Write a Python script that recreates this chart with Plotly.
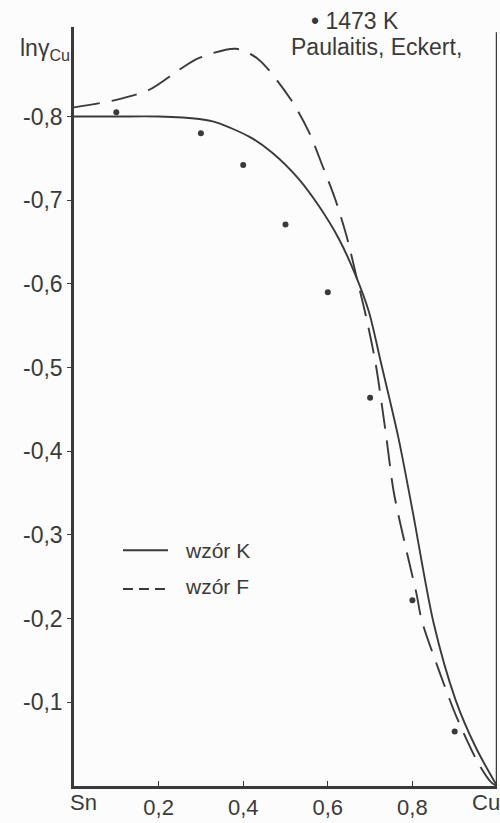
import plotly.graph_objects as go

# ---- data ----
k_x = [0.0, 0.1, 0.2, 0.296, 0.336, 0.414, 0.468, 0.532, 0.579, 0.626, 0.666, 0.697, 0.727, 0.767, 0.80, 0.85, 0.902, 0.95, 1.0]
k_y = [-0.800, -0.800, -0.800, -0.797, -0.793, -0.776, -0.757, -0.725, -0.693, -0.654, -0.610, -0.567, -0.503, -0.416, -0.330, -0.195, -0.103, -0.046, 0.0]

f_x = [0.0, 0.1, 0.178, 0.249, 0.296, 0.383, 0.437, 0.513, 0.555, 0.586, 0.617, 0.645, 0.669, 0.690, 0.713, 0.737,
       0.756, 0.787, 0.810, 0.822, 0.862, 0.904, 0.956, 0.987, 1.0]
f_y = [-0.811, -0.820, -0.832, -0.856, -0.870, -0.881, -0.868, -0.820, -0.782, -0.743, -0.702, -0.656, -0.606, -0.562,
       -0.505, -0.422, -0.351, -0.279, -0.229, -0.198, -0.139, -0.083, -0.027, -0.004, 0.0]

pts_x = [0.1, 0.3, 0.4, 0.5, 0.6, 0.7, 0.8, 0.9]
pts_y = [-0.805, -0.780, -0.742, -0.671, -0.590, -0.464, -0.222, -0.065]

y_ticks = [-0.1, -0.2, -0.3, -0.4, -0.5, -0.6, -0.7, -0.8]
y_ticktext = ["-0,1", "-0,2", "-0,3", "-0,4", "-0,5", "-0,6", "-0,7", "-0,8"]
x_ticks = [0.2, 0.4, 0.6, 0.8]
x_ticktext = ["0,2", "0,4", "0,6", "0,8"]

INK = "#3a3a3a"
FONT = "Liberation Sans"

fig = go.Figure()
fig.add_trace(go.Scatter(x=k_x, y=k_y, mode="lines",
                         line=dict(color=INK, width=1.9, shape="spline", smoothing=0.8),
                         showlegend=False, hoverinfo="skip"))
fig.add_trace(go.Scatter(x=f_x, y=f_y, mode="lines",
                         line=dict(color=INK, width=1.9, shape="spline", smoothing=0.8, dash="26px,12px"),
                         showlegend=False, hoverinfo="skip"))
fig.add_trace(go.Scatter(x=pts_x, y=pts_y, mode="markers", marker=dict(color=INK, size=6),
                         showlegend=False, hoverinfo="skip"))

# legend drawn manually
fig.add_shape(type="line", xref="paper", yref="paper", x0=0.1158, x1=0.2222, y0=0.3106, y1=0.3106,
              line=dict(color=INK, width=1.9))
fig.add_shape(type="line", xref="paper", yref="paper", x0=0.1158, x1=0.2222, y0=0.2595, y1=0.2595,
              line=dict(color=INK, width=1.9, dash="10px,6px"))
# right frame line
fig.add_shape(type="line", xref="x", yref="paper", x0=1, x1=1, y0=0, y1=0.993,
              line=dict(color=INK, width=2.5))

def ann(size):
    return dict(showarrow=False, font=dict(family=FONT, size=size, color=INK), xref="paper", yref="paper")

fig.add_annotation(text="wzór K", x=0.2577, y=0.3106, xanchor="left", yanchor="middle", **ann(21))
fig.add_annotation(text="wzór F", x=0.2577, y=0.2625, xanchor="left", yanchor="middle", **ann(21))
fig.add_annotation(text="• 1473 K", x=0.664, y=1.008, xanchor="center", yanchor="middle", **ann(23))
fig.add_annotation(text="Paulaitis, Eckert,", x=0.714, y=0.974, xanchor="center", yanchor="middle", **ann(23))
fig.add_annotation(text="lnγ<sub>Cu</sub>", x=-0.1324, y=0.970, xanchor="left", yanchor="middle", **ann(23))
fig.add_annotation(text="Sn", x=0.0213, y=-0.022, xanchor="center", yanchor="middle", **ann(22))
fig.add_annotation(text="Cu", x=0.936, y=-0.022, xanchor="left", yanchor="middle", **ann(22))

fig.update_layout(
    width=500, height=823,
    margin=dict(l=74, r=3, t=27, b=33),
    paper_bgcolor="#fcfcfc", plot_bgcolor="#fcfcfc",
    font=dict(family=FONT, color=INK),
    hovermode=False,
    xaxis=dict(range=[0, 1], showgrid=False, zeroline=False, showline=True, linecolor=INK, linewidth=2.5,
               tickvals=x_ticks, ticktext=x_ticktext, ticks="inside", ticklen=5, tickcolor=INK,
               tickfont=dict(family=FONT, size=22, color=INK)),
    yaxis=dict(range=[0, -0.907], showgrid=False, zeroline=False, showline=True, linecolor=INK, linewidth=2.5,
               tickvals=y_ticks, ticktext=y_ticktext, ticks="outside", ticklen=4, tickcolor=INK,
               tickfont=dict(family=FONT, size=23, color=INK)),
)

fig.write_html("out.html", config={"displayModeBar": False},
               post_script="document.body.style.margin='0px';")
